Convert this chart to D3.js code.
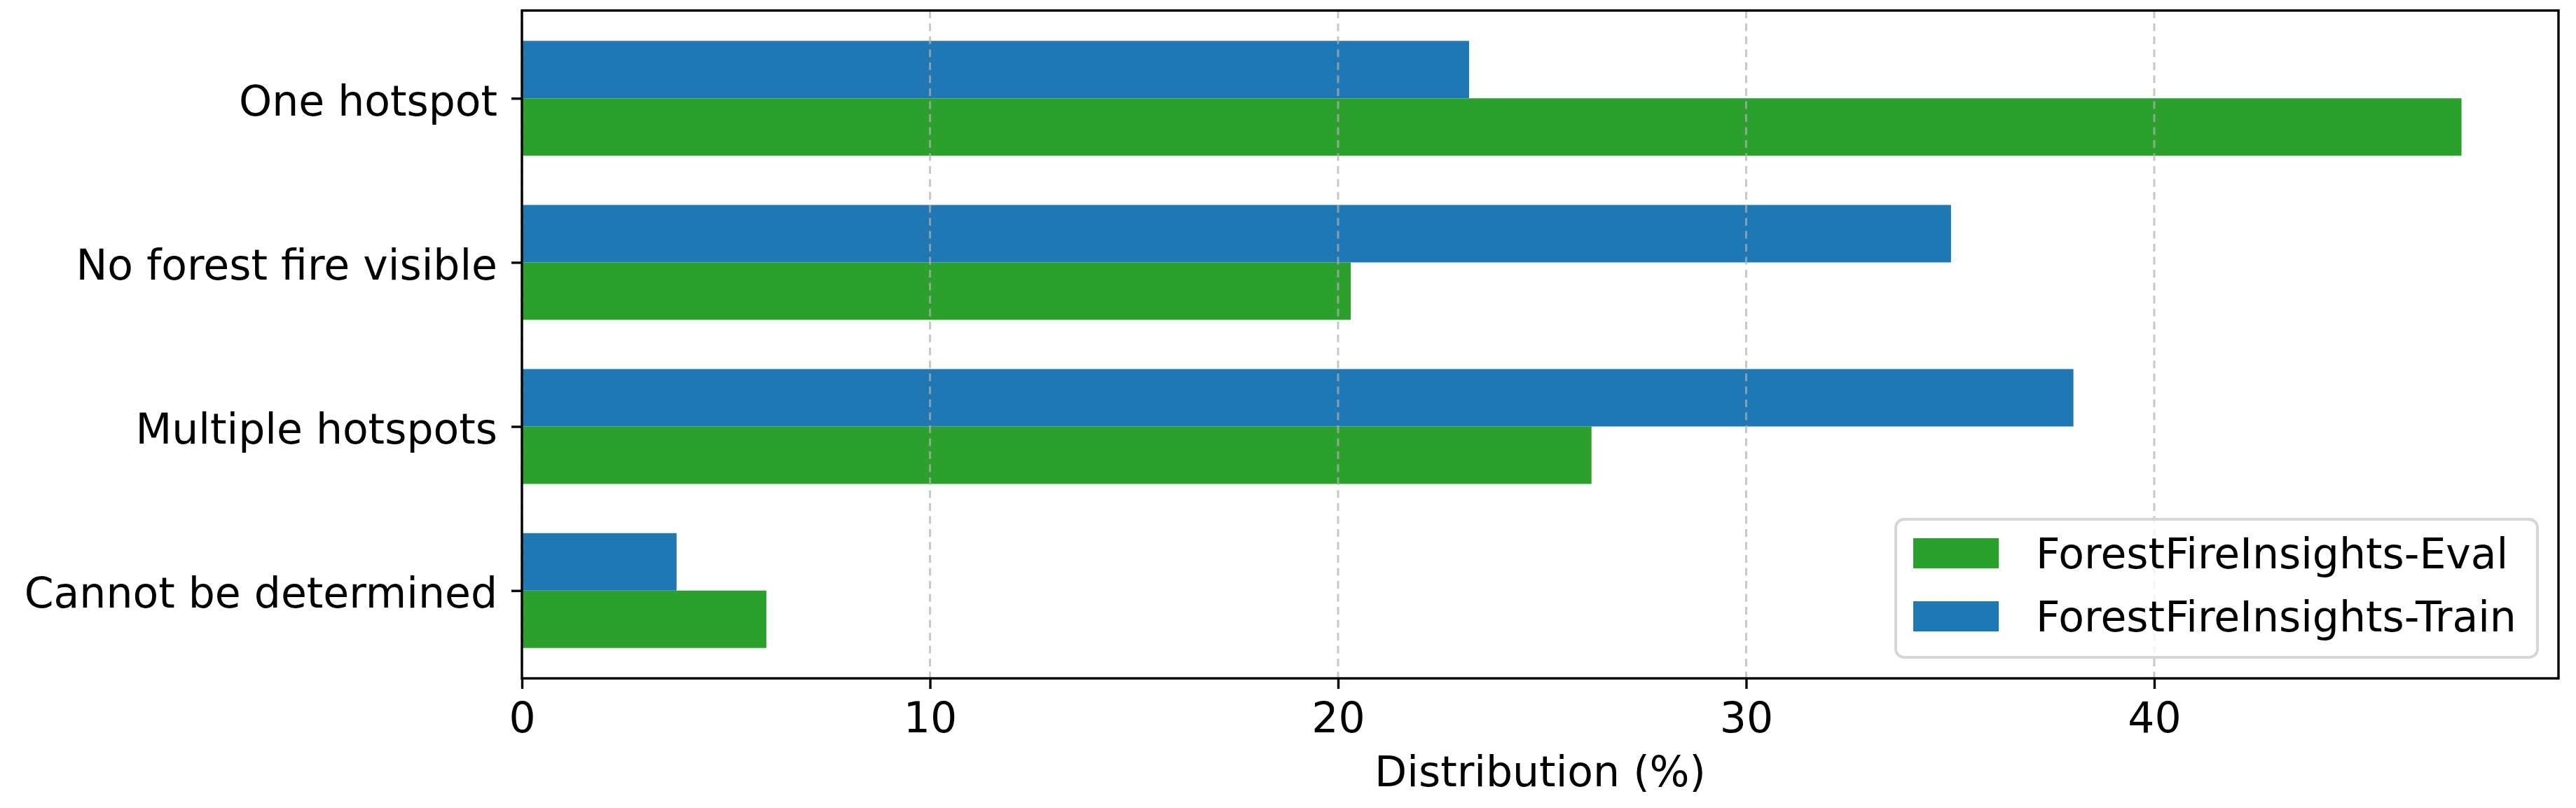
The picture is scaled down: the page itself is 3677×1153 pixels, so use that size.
<!DOCTYPE html>
<html>
<head>
<meta charset="utf-8">
<script src="https://cdn.jsdelivr.net/npm/d3@7"></script>
<style>
  body { margin: 0; background: #fff; }
  text { font-family: "DejaVu Sans", sans-serif; fill: #000; }
</style>
</head>
<body>
<div id="chart"></div>
<script>
// Data (bottom to top, as matplotlib barh draws it)
var categories = ["Cannot be determined", "Multiple hotspots", "No forest fire visible", "One hotspot"];
var evalValues = [5.99, 26.21, 20.31, 47.53];
var trainValues = [3.79, 38.02, 35.02, 23.21];
var xTicks = [0, 10, 20, 30, 40];
var seriesNames = ["ForestFireInsights-Eval", "ForestFireInsights-Train"];
var seriesColors = ["#2ca02c", "#1f77b4"];

var width = 3677, height = 1153;
var margin = { top: 15, right: 25, bottom: 185, left: 745 };
var plotW = width - margin.left - margin.right,
    plotH = height - margin.top - margin.bottom;
var barH = 0.35;
var fontSize = 60;

var svg = d3.select("#chart").append("svg")
    .attr("width", width)
    .attr("height", height);

var g = svg.append("g")
    .attr("transform", "translate(" + margin.left + "," + margin.top + ")");

var maxVal = d3.max(evalValues.concat(trainValues));
var x = d3.scaleLinear().domain([0, maxVal * 1.05]).range([0, plotW]);
var yPad = (categories.length - 1 + 2 * barH) * 0.05;
var y = d3.scaleLinear()
    .domain([-barH - yPad, categories.length - 1 + barH + yPad])
    .range([plotH, 0]);

// bars
g.selectAll(".train")
    .data(trainValues)
  .enter().append("rect")
    .attr("class", "train")
    .attr("x", x(0))
    .attr("y", function(d, i) { return y(i + barH); })
    .attr("width", function(d) { return x(d) - x(0); })
    .attr("height", function(d, i) { return y(i) - y(i + barH); })
    .attr("fill", seriesColors[1]);

g.selectAll(".eval")
    .data(evalValues)
  .enter().append("rect")
    .attr("class", "eval")
    .attr("x", x(0))
    .attr("y", function(d, i) { return y(i); })
    .attr("width", function(d) { return x(d) - x(0); })
    .attr("height", function(d, i) { return y(i - barH) - y(i); })
    .attr("fill", seriesColors[0]);

// dashed vertical grid (drawn over bars like matplotlib)
g.selectAll(".grid")
    .data(xTicks)
  .enter().append("line")
    .attr("class", "grid")
    .attr("x1", function(d) { return x(d); })
    .attr("x2", function(d) { return x(d); })
    .attr("y1", 0)
    .attr("y2", plotH)
    .attr("stroke", "#b0b0b0")
    .attr("stroke-opacity", 0.7)
    .attr("stroke-width", 3)
    .attr("stroke-dasharray", "11,7.5");

// x axis
var xAxis = g.append("g")
    .attr("transform", "translate(0," + plotH + ")")
    .call(d3.axisBottom(x).tickValues(xTicks).tickFormat(d3.format("d"))
      .tickSize(15).tickSizeOuter(0).tickPadding(19));
xAxis.select(".domain").remove();
xAxis.selectAll("line").attr("stroke", "#000").attr("stroke-width", 3.4);
xAxis.selectAll("text").style("font-size", fontSize + "px")
    .style("font-family", "'DejaVu Sans', sans-serif");

// y axis
var yAxis = g.append("g")
    .call(d3.axisLeft(y).tickValues(d3.range(categories.length))
      .tickFormat(function(i) { return categories[i]; })
      .tickSize(15).tickSizeOuter(0).tickPadding(20));
yAxis.select(".domain").remove();
yAxis.selectAll("line").attr("stroke", "#000").attr("stroke-width", 3.4);
yAxis.selectAll("text").attr("dy", "0.4em").style("font-size", fontSize + "px")
    .style("font-family", "'DejaVu Sans', sans-serif");

// frame
g.append("rect")
    .attr("x", 0).attr("y", 0)
    .attr("width", plotW).attr("height", plotH)
    .attr("fill", "none")
    .attr("stroke", "#000")
    .attr("stroke-width", 3.4);

// x label
g.append("text")
    .attr("x", plotW / 2)
    .attr("y", plotH + 154)
    .attr("text-anchor", "middle")
    .style("font-size", fontSize + "px")
    .text("Distribution (%)");

// legend (lower right)
var legW = 916, legH = 197;
var legend = g.append("g")
    .attr("transform", "translate(" + (plotW - 30 - legW) + "," + (plotH - 30 - legH) + ")");

legend.append("rect")
    .attr("width", legW).attr("height", legH)
    .attr("rx", 12).attr("ry", 12)
    .attr("fill", "#fff").attr("fill-opacity", 0.8)
    .attr("stroke", "#d6d6d6").attr("stroke-width", 4);

var rows = legend.selectAll(".legrow")
    .data(seriesNames)
  .enter().append("g")
    .attr("class", "legrow")
    .attr("transform", function(d, i) { return "translate(25," + (27 + i * 90) + ")"; });

rows.append("rect")
    .attr("width", 122).attr("height", 43)
    .attr("fill", function(d, i) { return seriesColors[i]; });

rows.append("text")
    .attr("x", 175)
    .attr("y", 43)
    .style("font-size", fontSize + "px")
    .text(function(d) { return d; });
</script>
</body>
</html>
